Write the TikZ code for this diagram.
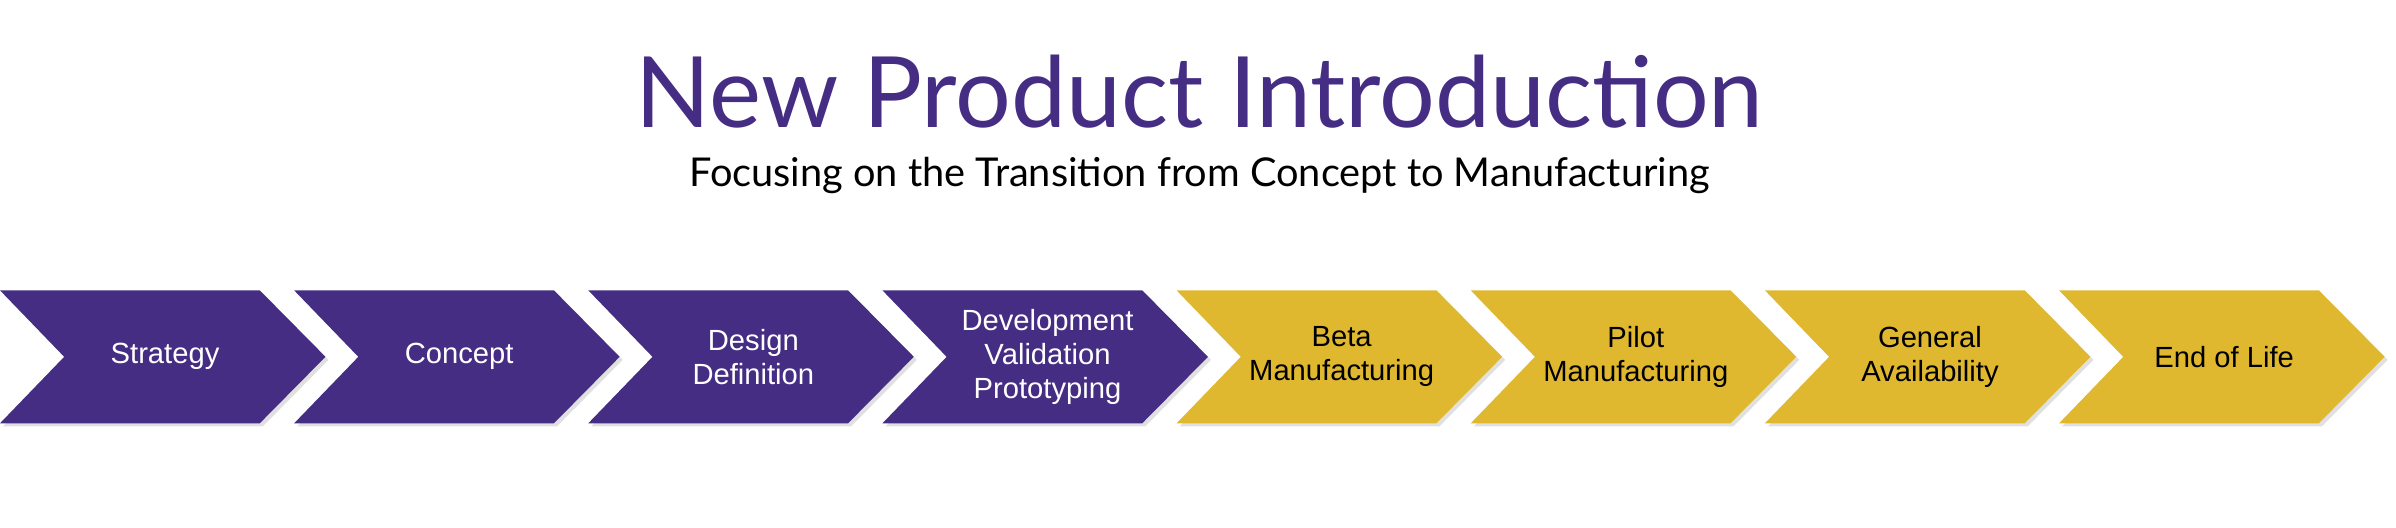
\documentclass[tikz,border=0pt]{standalone}
\usepackage{fontspec}
\setmainfont{Lato}
\newfontfamily\arialf{Liberation Sans}
\definecolor{npurple}{HTML}{452D84}
\definecolor{ngold}{HTML}{E0B830}
\begin{document}
\begin{tikzpicture}[x=0.01528cm,y=-0.01528cm]
\tikzset{
  lbl/.style={font=\arialf\fontsize{8.3}{9.6}\selectfont, align=center},
  chev/.style={line width=0pt}
}
\useasboundingbox (0,0) rectangle (1568,345.5);
\node[font=\fontsize{28}{32}\selectfont, text=npurple] (title) at (785,60) {New Product Introduction};
\node[font=\fontsize{11.3}{13}\selectfont] (sub) at (785,115) {Focusing on the Transition from Concept to Manufacturing};
\foreach \i/\c/\t/\txt in {0/npurple/white/Strategy,1/npurple/white/Concept,2/npurple/white/Design\\Definition,3/npurple/white/Development\\Validation\\Prototyping,4/ngold/black/Beta\\Manufacturing,5/ngold/black/Pilot\\Manufacturing,6/ngold/black/General\\Availability,7/ngold/black/End of Life}{
  \pgfmathsetmacro{\xo}{\i*192.5}
  \fill[black!12] (\xo+2,192) -- (\xo+172,192) -- (\xo+215,235.5) -- (\xo+172,279) -- (\xo+2,279) -- (\xo+44,235.5) -- cycle;
  \fill[\c] (\xo,190) -- (\xo+170,190) -- (\xo+213,233.5) -- (\xo+170,277) -- (\xo,277) -- (\xo+42,233.5) -- cycle;
  \node[lbl, text=\t] (c\i) at (\xo+108,233.5) {\txt};
}
\end{tikzpicture}
\end{document}
